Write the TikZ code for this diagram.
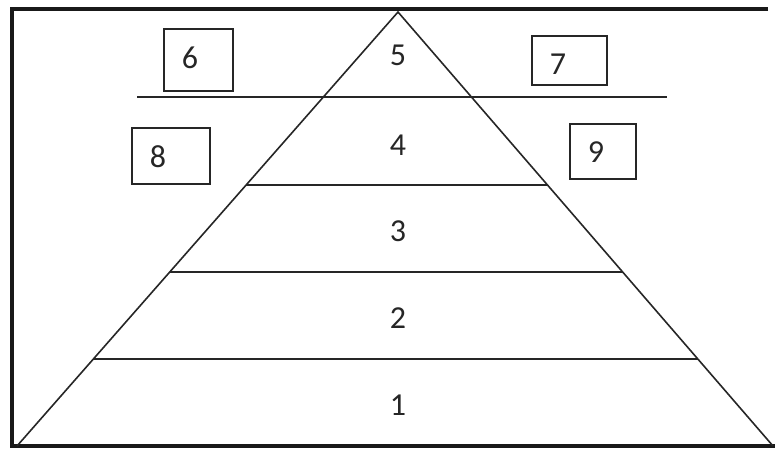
\documentclass[tikz,border=0pt]{standalone}
\usepackage{fontspec}
\setmainfont{Carlito}
\usetikzlibrary{calc}
\begin{document}
\begin{tikzpicture}[x=1pt,y=-1pt,
  thin line/.style={line width=1.6pt,black!85},
  frame line/.style={line width=4.5pt,black!90},
  numbox/.style={draw,line width=1.4pt,black!85,rectangle,inner sep=0pt},
  num/.style={font=\fontsize{32}{38}\selectfont,inner sep=0pt,text=black!85}]
\useasboundingbox (0,0) rectangle (775,448);
% frame
\coordinate (fTR) at (768,9);
\coordinate (fTL) at (12,9);
\coordinate (fBL) at (12,446);
\coordinate (fBR) at (775,446);
\draw[frame line] (fTR) -- (fTL) -- (fBL) -- (fBR);
% triangle
\coordinate (apex) at (398,12);
\coordinate (bl) at (17,446);
\coordinate (br) at (773,446);
\draw[thin line, line join=miter] (bl) -- (apex) -- (br);
% horizontal lines
\coordinate (h1l) at (137,97); \coordinate (h1r) at (667,97);
\draw[thin line] (h1l) -- (h1r);
\coordinate (h2l) at ($(bl)!{(446-185)/434}!(apex)$);
\coordinate (h2r) at ($(br)!{(446-185)/434}!(apex)$);
\coordinate (h3l) at ($(bl)!{(446-272)/434}!(apex)$);
\coordinate (h3r) at ($(br)!{(446-272)/434}!(apex)$);
\coordinate (h4l) at ($(bl)!{(446-359)/434}!(apex)$);
\coordinate (h4r) at ($(br)!{(446-359)/434}!(apex)$);
\draw[thin line] (h2l) -- (h2r);
\draw[thin line] (h3l) -- (h3r);
\draw[thin line] (h4l) -- (h4r);
% pyramid labels
\node[num] (n5) at (398,55) {5};
\node[num] (n4) at (398,145) {4};
\node[num] (n3) at (398,231) {3};
\node[num] (n2) at (398,318) {2};
\node[num] (n1) at (398,405) {1};
% side boxes
\node[numbox, minimum width=69pt, minimum height=62pt] (b6) at (198.5,60) {};
\node[numbox, minimum width=78pt, minimum height=56pt] (b8) at (171,156) {};
\node[numbox, minimum width=75pt, minimum height=49pt] (b7) at (569.5,60.5) {};
\node[numbox, minimum width=66pt, minimum height=55pt] (b9) at (603,151.5) {};
\node[num] (t6) at (190,58) {6};
\node[num] (t8) at (158,157) {8};
\node[num] (t7) at (558,64) {7};
\node[num] (t9) at (596,152) {9};
\end{tikzpicture}
\end{document}
